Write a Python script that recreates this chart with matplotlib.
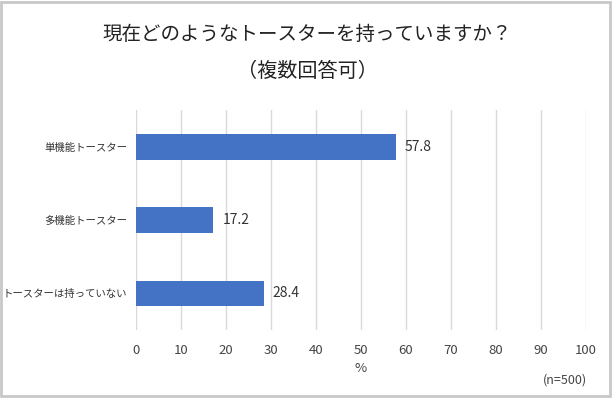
import matplotlib.pyplot as plt
from matplotlib.patches import Rectangle

plt.rcParams['font.family'] = ['Noto Sans CJK JP', 'DejaVu Sans']

categories = ['単機能トースター', '多機能トースター', 'トースターは持っていない']
values = [57.8, 17.2, 28.4]
xticks = [0, 10, 20, 30, 40, 50, 60, 70, 80, 90, 100]

fig = plt.figure(figsize=(6.14, 3.99), dpi=100)
ax = fig.add_axes([136 / 614, 1 - 330 / 399, 450 / 614, 220 / 399])

ypos = list(range(len(categories)))
ax.barh(ypos, values, height=0.35, color='#4472c4', zorder=3)
for y, v in zip(ypos, values):
    ax.text(v + 2.0, y, f'{v:.1f}', va='center', ha='left', fontsize=10, color='#333333')

ax.set_xlim(0, 100)
ax.set_ylim(len(categories) - 0.5, -0.5)
ax.set_yticks(ypos)
ax.set_yticklabels(categories, fontsize=7.5, color='#333333')
ax.set_xticks(xticks)
ax.set_xticklabels([str(t) for t in xticks], fontsize=9.5, color='#444444')
ax.tick_params(length=0, pad=10, axis='x')
ax.tick_params(length=0, pad=6.5, axis='y')
ax.grid(axis='x', color='#d9d9d9', linewidth=1, zorder=0)
for s in ax.spines.values():
    s.set_visible(False)
ax.set_xlabel('%', fontsize=9.5, color='#444444', labelpad=4)

fig.text(0.5, 1 - 34 / 399, '現在どのようなトースターを持っていますか？', ha='center', va='center', fontsize=14, color='#222222')
fig.text(0.5, 1 - 71 / 399, '（複数回答可）', ha='center', va='center', fontsize=14.5, color='#222222')
fig.text(565 / 614, 1 - 380 / 399, '(n=500)', ha='center', va='center', fontsize=9, color='#444444')

fig.patches.append(Rectangle((1 / 614, 3 / 399), 609 / 614, 394 / 399, transform=fig.transFigure,
                             fill=False, edgecolor='#c8c8c8', linewidth=2.0))

fig.savefig('out.png', dpi=100)
